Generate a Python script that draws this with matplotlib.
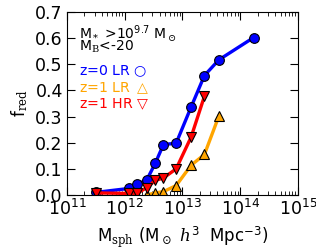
import numpy as np
import matplotlib
matplotlib.use("Agg")
import matplotlib.pyplot as plt

plt.rcParams['mathtext.fontset'] = 'custom'
plt.rcParams['mathtext.rm'] = 'DejaVu Serif'
plt.rcParams['mathtext.it'] = 'DejaVu Serif:italic'
plt.rcParams['mathtext.sf'] = 'DejaVu Sans'

# log10 of M_sph and red fractions
x_z0lr = [11.50, 12.07, 12.21, 12.38, 12.53, 12.67, 12.89, 13.15, 13.38, 13.63, 14.23]
f_z0lr = [0.010, 0.025, 0.041, 0.057, 0.122, 0.193, 0.198, 0.337, 0.457, 0.517, 0.602]

x_z1lr = [12.38, 12.53, 12.67, 12.89, 13.15, 13.38, 13.63]
f_z1lr = [0.0, 0.008, 0.013, 0.036, 0.114, 0.155, 0.302]

x_z1hr = [11.50, 12.07, 12.21, 12.38, 12.53, 12.67, 12.89, 13.15, 13.38]
f_z1hr = [0.008, 0.006, 0.006, 0.028, 0.056, 0.065, 0.100, 0.222, 0.378]

fig = plt.figure(figsize=(3.16, 2.5), dpi=100)
ax = fig.add_axes([0.212, 0.22, 0.731, 0.732])

ax.plot(10**np.array(x_z0lr), f_z0lr, '-o', color='blue', lw=2.4, ms=7, mec='k', mew=0.8)
ax.plot(10**np.array(x_z1lr), f_z1lr, '-^', color='orange', lw=2.4, ms=7, mec='k', mew=0.8)
ax.plot(10**np.array(x_z1hr), f_z1hr, '-v', color='red', lw=2.4, ms=7, mec='k', mew=0.8)

ax.set_xscale('log')
ax.set_xlim(1e11, 1e15)
ax.set_ylim(0, 0.7)
ax.set_yticks(np.arange(0, 0.71, 0.1))
ax.tick_params(which='both', direction='in', top=True, right=True, labelsize=12.5, pad=3)
ax.tick_params(which='major', length=6)
ax.tick_params(which='minor', length=3)

ax.set_ylabel(r'f$_{\rm red}$', fontsize=12)
ax.set_xlabel(r'M$_{\rm sph}$ (M$_\odot$ $h^{\mathsf{3}}$  Mpc$^{\mathsf{-3}}$)', fontsize=12)

ax.text(0.05, 0.885, r'M$_*$ >10$^{\mathsf{9.7}}$ M$_\odot$', transform=ax.transAxes, fontsize=10, va='center')
ax.text(0.05, 0.812, r'M$_{\rm B}$<-20', transform=ax.transAxes, fontsize=10, va='center')
ax.text(0.05, 0.674, r'z=0 LR $\bigcirc$', color='blue', transform=ax.transAxes, fontsize=10.2, va='center')
ax.text(0.05, 0.583, r'z=1 LR $\triangle$', color='orange', transform=ax.transAxes, fontsize=10.2, va='center')
ax.text(0.05, 0.498, r'z=1 HR $\bigtriangledown$', color='red', transform=ax.transAxes, fontsize=10.2, va='center')

fig.savefig('out.png', dpi=100)
